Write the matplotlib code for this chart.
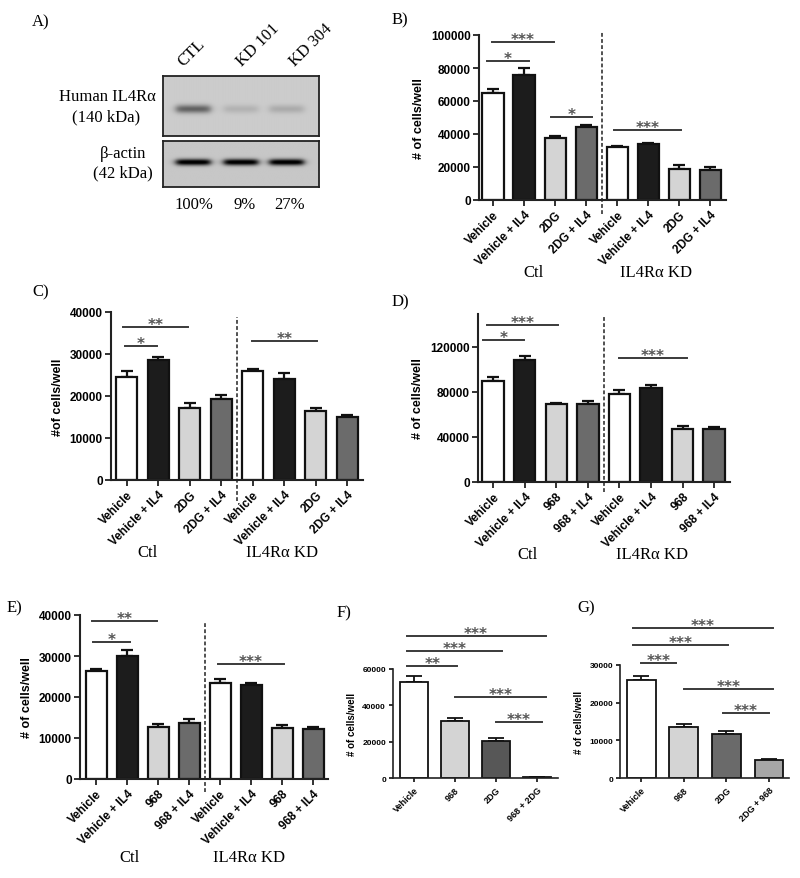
import numpy as np
import matplotlib
matplotlib.use('Agg')
import matplotlib.pyplot as plt
import matplotlib.transforms as mtrans

W, H = 800, 879
SANS = 'Liberation Sans'
SERIF = 'Liberation Serif'

# ---- data ----
lanes = ['CTL', 'KD 101', 'KD 304']
lane_pct = ['100%', '9%', '27%']
il4ra_band = [0.42, 0.10, 0.13]     # visual band darkness
actin_band = [0.85, 0.85, 0.85]

lab_2dg = ['Vehicle', 'Vehicle + IL4', '2DG', '2DG + IL4'] * 2
lab_968 = ['Vehicle', 'Vehicle + IL4', '968', '968 + IL4'] * 2

b_vals = [65000, 76000, 37500, 44000, 32000, 34000, 19000, 18000]
b_err = [2500, 4000, 1500, 1200, 700, 600, 2000, 2000]
b_sig = [(-0.2, 1.15, 84000, '*'), (-0.03, 1.97, 95700, '***'),
         (1.87, 3.2, 50300, '*'), (3.9, 6.05, 42400, '***')]

c_vals = [24500, 28500, 17200, 19200, 26000, 24000, 16500, 15000]
c_err = [1500, 700, 1200, 1000, 500, 1400, 600, 500]
c_sig = [(-0.06, 0.96, 31900, '*'), (-0.13, 1.94, 36400, '**'),
         (3.98, 6.05, 33100, '**')]

d_vals = [90000, 108000, 69500, 69500, 78000, 83000, 47000, 47000]
d_err = [3000, 4000, 1000, 2500, 3500, 3000, 3000, 1500]
d_sig = [(-0.32, 0.98, 126000, '*'), (-0.19, 2.06, 139500, '***'),
         (4.0, 6.13, 110000, '***')]

e_vals = [26400, 30000, 12600, 13700, 23300, 23000, 12500, 12100]
e_err = [500, 1400, 700, 1000, 1000, 400, 600, 500]
e_sig = [(-0.1, 1.1, 33400, '*'), (-0.13, 1.97, 38500, '**'),
         (3.94, 6.06, 28000, '***')]

f_labels = ['Vehicle', '968', '2DG', '968 + 2DG']
f_vals = [53000, 31500, 20500, 300]
f_err = [3000, 1500, 1500, 200]
f_sig = [(-0.17, 3.2, 78200, '***'), (-0.17, 2.14, 69900, '***'),
         (-0.15, 1.05, 61700, '**'), (1.0, 3.2, 44600, '***'),
         (2.0, 3.1, 30800, '***')]

g_labels = ['Vehicle', '968', '2DG', '2DG + 968']
g_vals = [26000, 13500, 11700, 4800]
g_err = [1200, 800, 700, 200]
g_sig = [(-0.19, 3.09, 39800, '***'), (-0.19, 2.04, 35300, '***'),
         (0.0, 0.82, 30500, '***'), (1.0, 3.09, 23600, '***'),
         (1.92, 3.0, 17300, '***')]

four_cols = ['white', '#1c1c1c', '#d4d4d4', '#6b6b6b'] * 2
f_cols = ['white', '#d4d4d4', '#575757', '#8a8a8a']
g_cols = ['white', '#d4d4d4', '#6a6a6a', '#a6a6a6']

fig = plt.figure(figsize=(W / 100, H / 100), dpi=100)


def px_axes(x0, y0, x1, y1):
    return fig.add_axes([x0 / W, 1 - y1 / H, (x1 - x0) / W, (y1 - y0) / H])


def ftext(x, y, s, **kw):
    fig.text(x / W, 1 - y / H, s, zorder=10, **kw)


def bar_panel(ax, vals, err, cols, labels, ylim, yticks, ylabel, sig, xlim,
              small=False, divider=None):
    x = np.arange(len(vals))
    lw = 1.3 if small else 1.6
    ax.bar(x, vals, width=0.68, color=cols, edgecolor='#111111', linewidth=lw, zorder=2)
    ax.errorbar(x, vals, yerr=[np.zeros(len(err)), err], fmt='none', ecolor='#111111',
                elinewidth=lw, capsize=5.5 if small else 4, capthick=lw, zorder=1)
    ax.set_xlim(*xlim)
    ax.set_ylim(*ylim)
    ax.spines[['top', 'right']].set_visible(False)
    ax.spines[['left', 'bottom']].set_linewidth(1.5 if not small else 1.2)
    ax.spines[['left', 'bottom']].set_color('#222222')
    tfs = 6 if small else 8.5
    ax.set_yticks(yticks)
    ax.set_yticklabels([str(int(t)) for t in yticks], fontsize=tfs, fontweight='bold',
                       family=SANS)
    ax.set_xticks(x)
    ax.set_xticklabels(labels, rotation=45, ha='right', rotation_mode='anchor',
                       fontsize=6.5 if small else 8.5, fontweight='bold', family=SANS)
    ax.tick_params(length=4 if not small else 3, width=1.3, color='#222222', pad=2)
    ax.set_ylabel(ylabel, fontsize=7 if small else 9, fontweight='bold', family=SANS)
    for x0, x1, y, s in sig:
        ax.plot([x0, x1], [y, y], color='#3a3a3a', lw=1.4, clip_on=False)
        ax.annotate(s, ((x0 + x1) / 2, y), xytext=(0, -1.5), textcoords='offset points',
                    ha='center', va='baseline', color='#555555', fontsize=11,
                    fontweight='bold', family='DejaVu Sans', annotation_clip=False)
    if divider is not None:
        tr = mtrans.blended_transform_factory(ax.transData, ax.transAxes)
        ax.plot([3.5, 3.5], list(divider), transform=tr, color='#222222', lw=1.1,
                ls=(0, (2.5, 1.5)), clip_on=False)


# ---- A) western blot ----
def blot(ax, dark, ycen, bg):
    xx = np.linspace(0, 3, 320)
    yy = np.linspace(0, 1, 120)
    img = np.full((len(yy), len(xx)), bg)
    lane_x = [0.58, 1.5, 2.38]
    for c, d in zip(lane_x, dark):
        px = 1 / (1 + np.exp((np.abs(xx - c) - 0.33) / 0.04))
        py = np.exp(-((yy - ycen) / 0.07) ** 2)
        img = img - d * np.outer(py, px)
    ax.imshow(img, cmap='gray', vmin=0, vmax=1, extent=[0, 3, 0, 1],
              aspect='auto', origin='lower', interpolation='bilinear')
    ax.set_xticks([])
    ax.set_yticks([])
    for s in ax.spines.values():
        s.set_linewidth(1.3)
        s.set_color('#222222')


ax_a1 = px_axes(163, 77, 319, 137)
blot(ax_a1, il4ra_band, 0.45, 0.80)
ax_a2 = px_axes(163, 142, 319, 188)
blot(ax_a2, actin_band, 0.54, 0.78)

for s, xp in zip(lanes, [186, 245, 298]):
    ftext(xp, 70, s, rotation=45, ha='left', va='bottom', rotation_mode='anchor',
          fontsize=12, family=SERIF)
for s, xp in zip(lane_pct, [194, 245, 290]):
    ftext(xp, 205, s, ha='center', va='center', fontsize=12, family=SERIF)
ftext(107, 97, 'Human IL4R\u03b1', ha='center', va='center', fontsize=12, family=SERIF)
ftext(106, 117, '(140 kDa)', ha='center', va='center', fontsize=12, family=SERIF)
ftext(123, 154, '\u03b2-actin', ha='center', va='center', fontsize=12, family=SERIF)
ftext(123, 173, '(42 kDa)', ha='center', va='center', fontsize=12, family=SERIF)

# ---- B) ----
ax_b = px_axes(479, 36, 726, 201)
bar_panel(ax_b, b_vals, b_err, four_cols, lab_2dg, (0, 100000),
          [0, 20000, 40000, 60000, 80000, 100000], '# of cells/well', b_sig,
          (-0.45, 7.5), divider=(-0.085, 1.02))

# ---- C) ----
ax_c = px_axes(111, 313, 363, 481)
bar_panel(ax_c, c_vals, c_err, four_cols, lab_2dg, (0, 40000),
          [0, 10000, 20000, 30000, 40000], '#of cells/well', c_sig,
          (-0.5, 7.5), divider=(-0.125, 0.97))

# ---- D) ----
ax_d = px_axes(478, 315, 730, 483)
bar_panel(ax_d, d_vals, d_err, four_cols, lab_968, (0, 149000),
          [0, 40000, 80000, 120000], '# of cells/well', d_sig,
          (-0.48, 7.5), divider=(-0.06, 0.99))

# ---- E) ----
ax_e = px_axes(80, 616, 328, 780)
bar_panel(ax_e, e_vals, e_err, four_cols, lab_968, (0, 40000),
          [0, 10000, 20000, 30000, 40000], '# of cells/well', e_sig,
          (-0.52, 7.48), divider=(-0.08, 0.96))

# ---- F) ----
ax_f = px_axes(393, 670, 558, 779)
bar_panel(ax_f, f_vals, f_err, f_cols, f_labels, (0, 60000),
          [0, 20000, 40000, 60000], '# of cells/well', f_sig, (-0.5, 3.5), small=True)

# ---- G) ----
ax_g = px_axes(620, 666, 789, 779)
bar_panel(ax_g, g_vals, g_err, g_cols, g_labels, (0, 30000),
          [0, 10000, 20000, 30000], '# of cells/well', g_sig, (-0.5, 3.47), small=True)

# group labels
for (xc, yc, s) in [(533, 273, 'Ctl'), (656, 273, 'IL4R\u03b1 KD'),
                    (148, 553, 'Ctl'), (282, 553, 'IL4R\u03b1 KD'),
                    (528, 555, 'Ctl'), (652, 555, 'IL4R\u03b1 KD'),
                    (130, 858, 'Ctl'), (249, 858, 'IL4R\u03b1 KD')]:
    ftext(xc, yc, s, ha='center', va='center', fontsize=12, family=SERIF)

# panel letters
for (xl, yl, s) in [(32, 22, 'A)'), (392, 20, 'B)'), (32, 292, 'C)'),
                    (392, 302, 'D)'), (7, 608, 'E)'), (337, 613, 'F)'),
                    (577, 608, 'G)')]:
    ftext(xl, yl, s, ha='left', va='center', fontsize=12, family=SERIF)

fig.savefig('out.png', dpi=100)
